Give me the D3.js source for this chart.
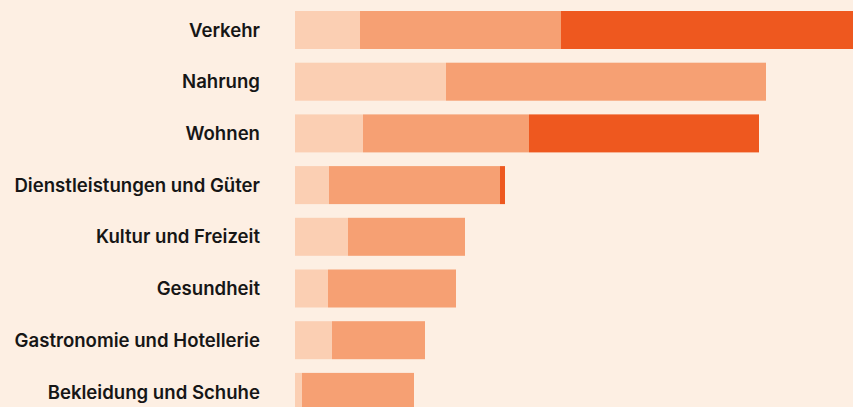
<!DOCTYPE html>
<html>
<head>
<meta charset="utf-8">
<script src="https://cdn.jsdelivr.net/npm/d3@7"></script>
<style>
  html, body { margin: 0; padding: 0; background: #fdefe3; }
  svg { display: block; }
  .label { font-family: Inter, "Liberation Sans", Arial, sans-serif; font-weight: 600; font-size: 18.6px; fill: #161616; }
</style>
</head>
<body>
<svg width="853" height="407"></svg>
<script>
const width = 853, height = 407;
const svg = d3.select("svg");

// categories, top to bottom
const categories = ["Verkehr", "Nahrung", "Wohnen", "Dienstleistungen und Güter",
    "Kultur und Freizeit", "Gesundheit", "Gastronomie und Hotellerie", "Bekleidung und Schuhe"];

// three stacked parts per category
const part1 = [65, 151, 68, 34, 53, 33, 37, 7];
const part2 = [201, 320, 166, 171, 117, 128, 93, 112];
const part3 = [300, 0, 230, 5, 0, 0, 0, 0];

const colors = ["#fbcfb3", "#f6a073", "#ee581f"];

const rows = categories.map((c, i) => ({ cat: c, a: part1[i], b: part2[i], c: part3[i] }));
const stack = d3.stack().keys(["a", "b", "c"])(rows);

const x = d3.scaleLinear()
    .domain([0, 560])
    .range([295, 855]);

const y = d3.scaleBand()
    .domain(categories)
    .range([4.15, 417.75])
    .paddingInner(13.7 / 51.7)
    .paddingOuter(6.85 / 51.7);

// Bars
svg.selectAll(".layer")
    .data(stack)
    .enter().append("g")
    .attr("class", "layer")
    .attr("fill", (d, i) => colors[i])
    .selectAll("rect")
    .data(d => d)
    .enter().append("rect")
    .attr("x", d => x(d[0]))
    .attr("y", d => y(d.data.cat))
    .attr("width", d => x(d[1]) - x(d[0]))
    .attr("height", y.bandwidth());

// Category labels
svg.selectAll(".label")
    .data(categories)
    .enter().append("text")
    .attr("class", "label")
    .attr("x", 260)
    .attr("y", d => y(d) + y.bandwidth() / 2)
    .attr("dy", "0.36em")
    .attr("text-anchor", "end")
    .text(d => d);
</script>
</body>
</html>
